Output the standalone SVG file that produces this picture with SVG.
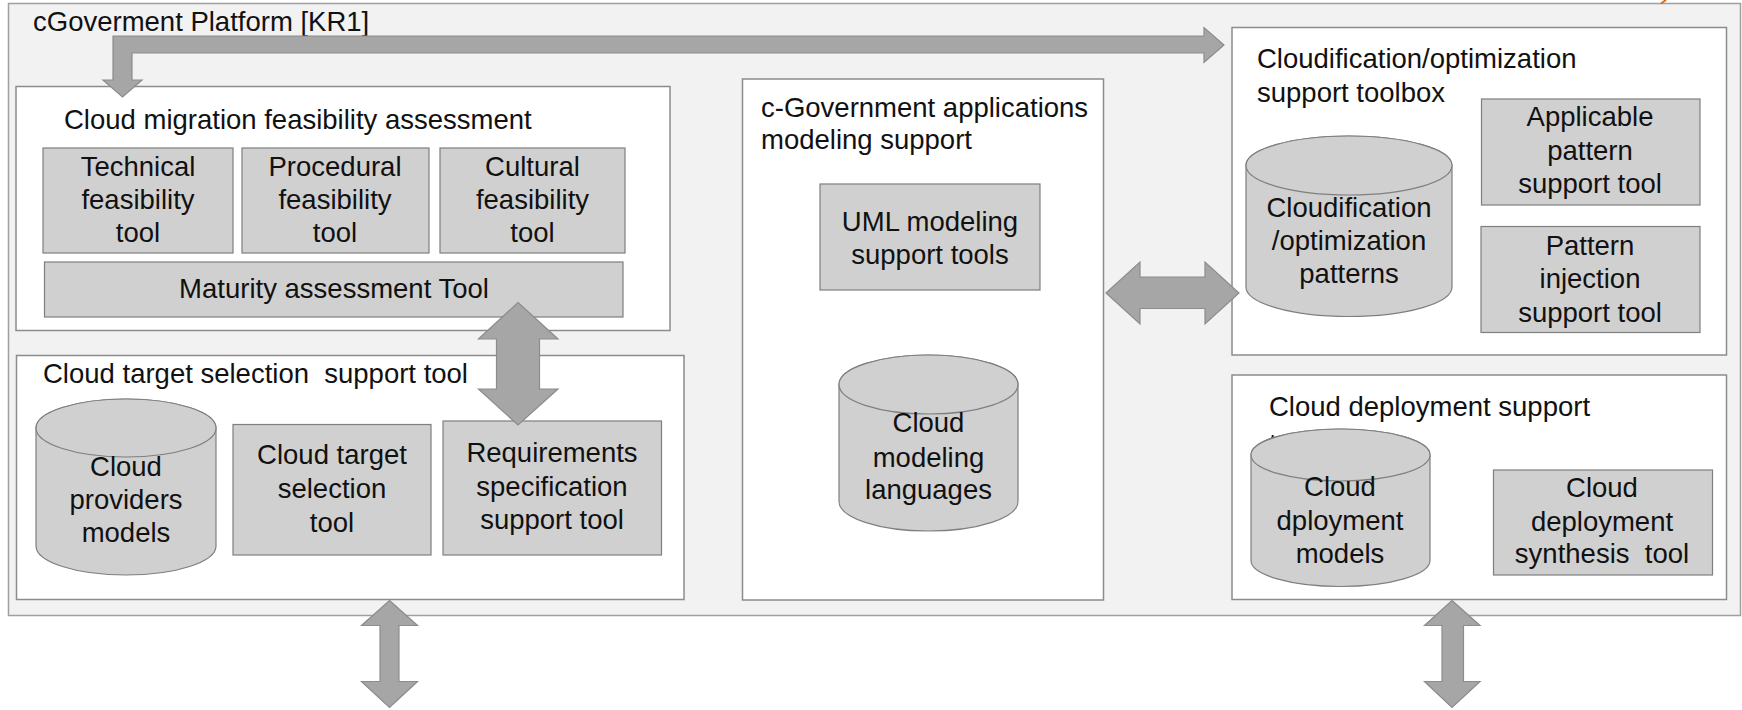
<svg xmlns="http://www.w3.org/2000/svg" width="1742" height="710" viewBox="0 0 1742 710">
<style>
  text { font-family: "Liberation Sans", Arial, sans-serif; font-size: 27.5px; fill: #111; white-space: pre; }
  .c { text-anchor: middle; }
  .frame { fill: #f2f2f2; stroke: #a0a0a0; stroke-width: 1.5; }
  .cont { fill: #ffffff; stroke: #8c8c8c; stroke-width: 1.5; }
  .box { fill: #d0d0d0; stroke: #7f7f7f; stroke-width: 1.2; }
  .cyl { fill: #d0d0d0; stroke: #7f7f7f; stroke-width: 1.2; }
  .arrow { fill: #a6a6a6; stroke: #8c8c8c; stroke-width: 1.2; stroke-linejoin: miter; }
</style>

<g id="platform">
  <rect class="frame" x="8.5" y="3.5" width="1732" height="612"/>
  <path d="M1666,0 L1661,3.5" stroke="#e46c0a" stroke-width="2" fill="none"/>
  <text x="33" y="31">cGoverment Platform [KR1]</text>
</g>

<g id="migration">
  <rect class="cont" x="16" y="86.5" width="654" height="244"/>
  <text x="64" y="129">Cloud migration feasibility assessment</text>
  <g id="technical">
    <rect class="box" x="43" y="148" width="190" height="105"/>
    <text class="c" x="138" y="176">Technical</text>
    <text class="c" x="138" y="209">feasibility</text>
    <text class="c" x="138" y="242">tool</text>
  </g>
  <g id="procedural">
    <rect class="box" x="242" y="148" width="187" height="105"/>
    <text class="c" x="335" y="176">Procedural</text>
    <text class="c" x="335" y="209">feasibility</text>
    <text class="c" x="335" y="242">tool</text>
  </g>
  <g id="cultural">
    <rect class="box" x="440" y="148" width="185" height="105"/>
    <text class="c" x="532.5" y="176">Cultural</text>
    <text class="c" x="532.5" y="209">feasibility</text>
    <text class="c" x="532.5" y="242">tool</text>
  </g>
  <g id="maturity">
    <rect class="box" x="44.5" y="262" width="578.5" height="55"/>
    <text class="c" x="334" y="297.5">Maturity assessment Tool</text>
  </g>
</g>

<g id="target">
  <rect class="cont" x="16.5" y="355.5" width="667.5" height="244"/>
  <text x="43" y="383">Cloud target selection  support tool</text>
  <g id="providers">
    <path class="cyl" d="M36,428 A90,29 0 0 1 216,428 L216,546 A90,29 0 0 1 36,546 Z"/>
    <ellipse class="cyl" cx="126" cy="428" rx="90" ry="29"/>
    <text class="c" x="126" y="476">Cloud</text>
    <text class="c" x="126" y="509">providers</text>
    <text class="c" x="126" y="542">models</text>
  </g>
  <g id="selection">
    <rect class="box" x="233" y="424.5" width="198" height="130.5"/>
    <text class="c" x="332" y="464">Cloud target</text>
    <text class="c" x="332" y="498">selection</text>
    <text class="c" x="332" y="531.5">tool</text>
  </g>
  <g id="requirements">
    <rect class="box" x="443" y="421" width="218.5" height="134"/>
    <text class="c" x="552" y="462">Requirements</text>
    <text class="c" x="552" y="496">specification</text>
    <text class="c" x="552" y="529">support tool</text>
  </g>
</g>

<g id="modeling">
  <rect class="cont" x="742.5" y="79" width="361" height="521"/>
  <text x="761" y="117">c-Government applications</text>
  <text x="761" y="149">modeling support</text>
  <g id="uml">
    <rect class="box" x="820" y="184" width="220" height="106"/>
    <text class="c" x="930" y="231">UML modeling</text>
    <text class="c" x="930" y="263.5">support tools</text>
  </g>
  <g id="languages">
    <path class="cyl" d="M839,384.5 A89.5,29.5 0 0 1 1018,384.5 L1018,501.5 A89.5,29.5 0 0 1 839,501.5 Z"/>
    <ellipse class="cyl" cx="928.5" cy="384.5" rx="89.5" ry="29.5"/>
    <text class="c" x="928.5" y="432">Cloud</text>
    <text class="c" x="928.5" y="467">modeling</text>
    <text class="c" x="928.5" y="498.5">languages</text>
  </g>
</g>

<g id="cloudification">
  <rect class="cont" x="1232" y="27.5" width="494.5" height="327.5"/>
  <text x="1257" y="68">Cloudification/optimization</text>
  <text x="1257" y="101.5">support toolbox</text>
  <g id="patterns">
    <path class="cyl" d="M1246,165.5 A103,29.5 0 0 1 1452,165.5 L1452,287 A103,29.5 0 0 1 1246,287 Z"/>
    <ellipse class="cyl" cx="1349" cy="165.5" rx="103" ry="29.5"/>
    <text class="c" x="1349" y="216.5">Cloudification</text>
    <text class="c" x="1349" y="250">/optimization</text>
    <text class="c" x="1349" y="282.5">patterns</text>
  </g>
  <g id="applicable">
    <rect class="box" x="1481.5" y="99" width="218.5" height="106"/>
    <text class="c" x="1590" y="126">Applicable</text>
    <text class="c" x="1590" y="160">pattern</text>
    <text class="c" x="1590" y="192.5">support tool</text>
  </g>
  <g id="injection">
    <rect class="box" x="1481" y="226.5" width="219" height="106"/>
    <text class="c" x="1590" y="255">Pattern</text>
    <text class="c" x="1590" y="288">injection</text>
    <text class="c" x="1590" y="321.5">support tool</text>
  </g>
</g>

<g id="deployment">
  <rect class="cont" x="1232" y="375" width="494.5" height="224.5"/>
  <text x="1269" y="416">Cloud deployment support</text>
  <text x="1269" y="453">tool</text>
  <g id="deploymodels">
    <path class="cyl" d="M1251,455 A89.5,26 0 0 1 1430,455 L1430,560.5 A89.5,26 0 0 1 1251,560.5 Z"/>
    <ellipse class="cyl" cx="1340.5" cy="455" rx="89.5" ry="26"/>
    <text class="c" x="1340" y="496">Cloud</text>
    <text class="c" x="1340" y="530">dployment</text>
    <text class="c" x="1340" y="562.5">models</text>
  </g>
  <g id="synthesis">
    <rect class="box" x="1493.5" y="470" width="219" height="105"/>
    <text class="c" x="1602" y="496.5">Cloud</text>
    <text class="c" x="1602" y="530.5">deployment</text>
    <text class="c" x="1602" y="563">synthesis  tool</text>
  </g>
</g>

<g id="connectors">
  <polygon class="arrow" points="113,36 1204,36 1204,27.5 1224,45 1204,62.5 1204,53 132,53 132,80 142,80 122.5,97 103,80 113,80"/>
  <polygon class="arrow" points="1106,293 1140,262 1140,277 1205,277 1205,262 1239,293 1205,324 1205,308.5 1140,308.5 1140,324"/>
  <polygon class="arrow" points="518,302.5 558,339 539.5,339 539.5,389 558,389 518,425 478.5,389 496.5,389 496.5,339 478.5,339"/>
  <polygon class="arrow" points="389.5,600.5 417.5,625.5 399,625.5 399,681.5 417.5,681.5 389.5,707.5 361.5,681.5 380,681.5 380,625.5 361.5,625.5"/>
  <polygon class="arrow" points="1452,600.5 1480,625.5 1463.5,625.5 1463.5,681.5 1480,681.5 1452,707.5 1424.5,681.5 1442,681.5 1442,625.5 1424.5,625.5"/>
</g>
</svg>
